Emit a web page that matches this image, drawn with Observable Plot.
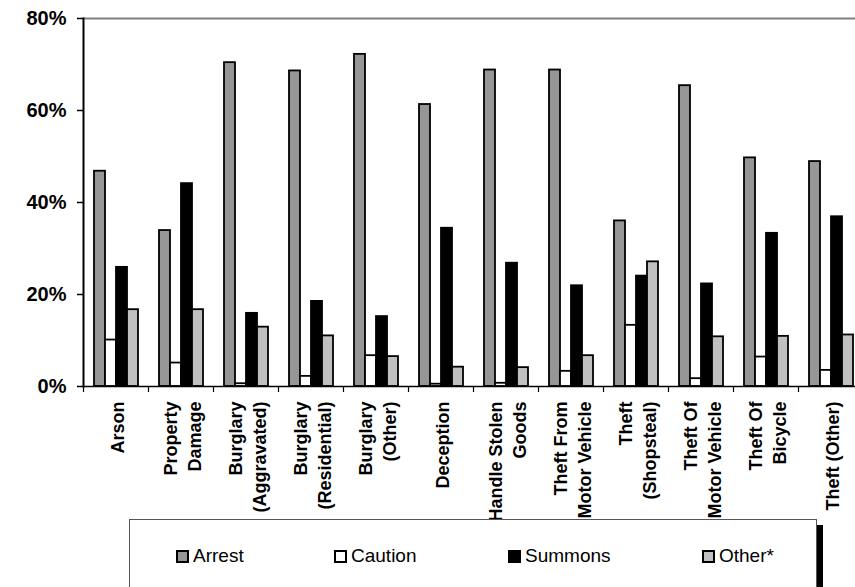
<!DOCTYPE html>
<html>
<head>
<meta charset="utf-8">
<script src="https://cdn.jsdelivr.net/npm/d3@7"></script>
<script src="https://cdn.jsdelivr.net/npm/@observablehq/plot@0.6"></script>
<style>
  html, body { margin: 0; padding: 0; background: #fff; }
  body { width: 855px; height: 587px; overflow: hidden; font-family: "Liberation Sans", Arial, sans-serif; }
  #chart svg { display: block; }
  #legend {
    position: relative; margin-left: 129px; width: 688px; height: 80px;
    box-sizing: border-box; border: 1px solid #555; background: #fff;
    box-shadow: 6px 6px 0 #000;
  }
  .item { position: absolute; top: 25px; display: flex; align-items: center; font-size: 19px; color: #000; }
  .sw { width: 9px; height: 9px; border: 2px solid #000; margin-right: 4px; }
</style>
</head>
<body>
<div id="chart"></div>
<div id="legend"></div>
<script>
const categories = ["Arson", "Property\nDamage", "Burglary\n(Aggravated)", "Burglary\n(Residential)", "Burglary\n(Other)", "Deception", "Handle Stolen\nGoods", "Theft From\nMotor Vehicle", "Theft\n(Shopsteal)", "Theft Of\nMotor Vehicle", "Theft Of\nBicycle", "Theft (Other)"];
const series = ["Arrest", "Caution", "Summons", "Other*"];
const arrest  = [46.8, 33.9, 70.4, 68.6, 72.2, 61.3, 68.8, 68.8, 36.0, 65.4, 49.7, 48.9];
const caution = [10.1, 5.1, 0.6, 2.2, 6.7, 0.5, 0.7, 3.3, 13.3, 1.7, 6.4, 3.5];
const summons = [25.9, 44.1, 15.9, 18.5, 15.2, 34.4, 26.8, 21.9, 24.0, 22.3, 33.3, 36.9];
const other   = [16.7, 16.7, 12.9, 11.0, 6.5, 4.2, 4.1, 6.7, 27.1, 10.8, 10.9, 11.2];
const colors = ["#969696", "#ffffff", "#000000", "#c0c0c0"];
const yTicks = [0, 20, 40, 60, 80];

const seriesValues = [arrest, caution, summons, other];
const rows = categories.flatMap((c, i) => series.map((s, j) => ({category: c, series: s, value: seriesValues[j][i]})));

const W = 855, ML = 83, MR = -8;
const step = (W - ML - MR) / categories.length;

const chart = Plot.plot({
  width: W, height: 519,
  marginLeft: ML, marginRight: MR, marginTop: 18, marginBottom: 133,
  style: {fontFamily: "'Liberation Sans', Arial, sans-serif", background: "white", color: "black"},
  fx: {domain: categories, padding: 0, label: null},
  x: {domain: series, paddingInner: 0, paddingOuter: 0.826, axis: null, label: null},
  y: {domain: [0, 80], label: null},
  color: {domain: series, range: colors},
  marks: [
    Plot.ruleY([80], {stroke: "#808080", strokeWidth: 2}),
    Plot.barY(rows, {fx: "category", x: "series", y: "value", fill: "series", stroke: "black", strokeWidth: 1.8}),
    Plot.ruleY([0], {stroke: "black", strokeWidth: 1.5}),
    Plot.frame({anchor: "left", facetAnchor: "left", stroke: "black", strokeWidth: 2}),
    Plot.axisY({ticks: yTicks, tickFormat: () => "", tickSize: 6, label: null, stroke: "black", strokeWidth: 1.5}),
    Plot.text(yTicks, {y: d => d, text: d => d + "%", frameAnchor: "left", textAnchor: "end", dx: -17, fontSize: 20, fontWeight: "bold", fill: "black", facetAnchor: "left"}),
    Plot.axisFx({anchor: "bottom", tickSize: 6, tickFormat: () => "", dx: -step / 2, label: null, stroke: "black", strokeWidth: 1.2}),
    Plot.text(categories, {fx: d => d, text: d => d, frameAnchor: "bottom", rotate: -90, textAnchor: "end", lineAnchor: "middle", dy: 15, fontSize: 18, fontWeight: "bold", lineHeight: 1.33, fill: "black"})
  ]
});
document.getElementById("chart").appendChild(chart);

const legendLeft = [46, 204, 378, 572];
const legend = document.getElementById("legend");
series.forEach((s, j) => {
  const item = document.createElement("div");
  item.className = "item";
  item.style.left = legendLeft[j] + "px";
  const sw = document.createElement("div");
  sw.className = "sw";
  sw.style.background = colors[j];
  const label = document.createElement("span");
  label.textContent = s;
  item.appendChild(sw);
  item.appendChild(label);
  legend.appendChild(item);
});
</script>
</body>
</html>
